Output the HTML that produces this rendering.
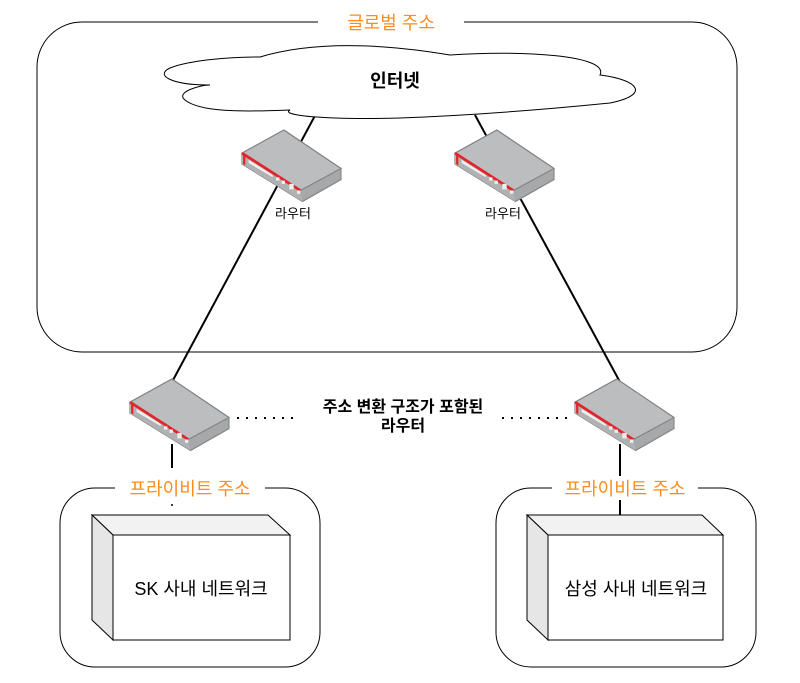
<!DOCTYPE html>
<html><head><meta charset="utf-8"><style>
html,body{margin:0;padding:0;background:#fff;}
svg text{font-family:"Liberation Sans","Noto Sans CJK KR",sans-serif;}
</style></head><body>
<svg width="800" height="678" viewBox="0 0 800 678" xmlns="http://www.w3.org/2000/svg">
<defs>
<g id="rt" transform="scale(1.1)">
  <path d="M38 0 L90 35 L90 45 L55 65 L0 31 L0 21 Z" fill="#a7a8aa" stroke="#7a7b7d" stroke-width="1"/>
  <path d="M38 0 L90 35 L53 55 L0 21 Z" fill="#bcbdbf" stroke="#808183" stroke-width="1"/>
  <path d="M0 21 L53 55 L55 65 L0 31 Z" fill="#b0b1b3"/>
  <path d="M0 21 L53 55" stroke="#e3242b" stroke-width="2.5" fill="none"/>
  <path d="M1 22 L1 31 L3 32 L3 23 Z" fill="#e3242b"/>
  <path d="M6 27 L28 41 L28 43 L6 30 Z" fill="#eee"/>
  <rect x="31" y="43" width="3" height="3" fill="#eee"/>
  <rect x="36" y="46" width="3" height="3" fill="#eee"/>
  <rect x="43" y="49" width="4" height="5" fill="#eee"/>
  <rect x="50" y="55" width="3" height="3" fill="#eee"/>
  <path d="M55 65 L90 45 L90 35" stroke="#8a8b8d" fill="none"/>
</g>
</defs>
<rect x="37" y="22" width="700" height="330" rx="45" fill="none" stroke="#000" stroke-width="1"/>
<rect x="318" y="10" width="146" height="22" fill="#fff"/>
<text x="391" y="29" font-size="18" fill="#ff8c1a" text-anchor="middle">글로벌 주소</text>
<line x1="318" y1="110" x2="172" y2="382" stroke="#000" stroke-width="2"/>
<line x1="475" y1="115" x2="620" y2="382" stroke="#000" stroke-width="2"/>
<line x1="172" y1="444" x2="172" y2="468" stroke="#000" stroke-width="2"/>
<circle cx="172" cy="505" r="1" fill="#000"/>
<line x1="620" y1="444" x2="620" y2="517" stroke="#000" stroke-width="2"/>
<path d="M260 57 C300 45 360 40 450 55 C520 50 610 55 600 75 C640 80 650 95 610 103 C560 108 480 115 400 118 C320 120 280 115 290 110 C240 112 200 112 185 100 C175 92 200 85 210 85 C170 85 155 75 170 68 C190 60 230 57 260 57 Z" fill="#fff" stroke="#000" stroke-width="1"/>
<text x="395" y="87" font-size="18" font-weight="bold" text-anchor="middle">인터넷</text>
<use href="#rt" x="242" y="130"/>
<use href="#rt" x="455" y="130"/>
<use href="#rt" x="130" y="379"/>
<use href="#rt" x="575" y="379"/>
<text x="293" y="218" font-size="13" text-anchor="middle">라우터</text>
<text x="503" y="218" font-size="13" text-anchor="middle">라우터</text>
<line x1="237" y1="418" x2="300" y2="418" stroke="#000" stroke-width="2" stroke-dasharray="2,7"/>
<line x1="502" y1="418" x2="570" y2="418" stroke="#000" stroke-width="2" stroke-dasharray="2,7"/>
<text x="403" y="412" font-size="16" font-weight="bold" text-anchor="middle">주소 변환 구조가 포함된</text>
<text x="403" y="431" font-size="16" font-weight="bold" text-anchor="middle">라우터</text>
<rect x="60" y="488" width="260" height="179" rx="35" fill="none" stroke="#000"/>
<rect x="115" y="476" width="150" height="24" fill="#fff"/>
<text x="190" y="495" font-size="18" fill="#ff8c1a" text-anchor="middle">프라이비트 주소</text>
<rect x="496" y="488" width="260" height="179" rx="35" fill="none" stroke="#000"/>
<rect x="552" y="476" width="146" height="24" fill="#fff"/>
<text x="625" y="495" font-size="18" fill="#ff8c1a" text-anchor="middle">프라이비트 주소</text>
<g stroke="#000" stroke-width="1">
<path d="M92 515 L268 515 L290 535 L113 535 Z" fill="#f2f2f2"/>
<path d="M92 515 L113 535 L113 640 L92 620 Z" fill="#e6e6e6"/>
<rect x="113" y="535" width="177" height="105" fill="#fff"/>
<path d="M527 515 L702 515 L723 535 L548 535 Z" fill="#f2f2f2"/>
<path d="M527 515 L548 535 L548 640 L527 620 Z" fill="#e6e6e6"/>
<rect x="548" y="535" width="175" height="105" fill="#fff"/>
</g>
<text x="201" y="595" font-size="18" text-anchor="middle">SK 사내 네트워크</text>
<text x="636" y="595" font-size="18" text-anchor="middle">삼성 사내 네트워크</text>
</svg>
</body></html>
